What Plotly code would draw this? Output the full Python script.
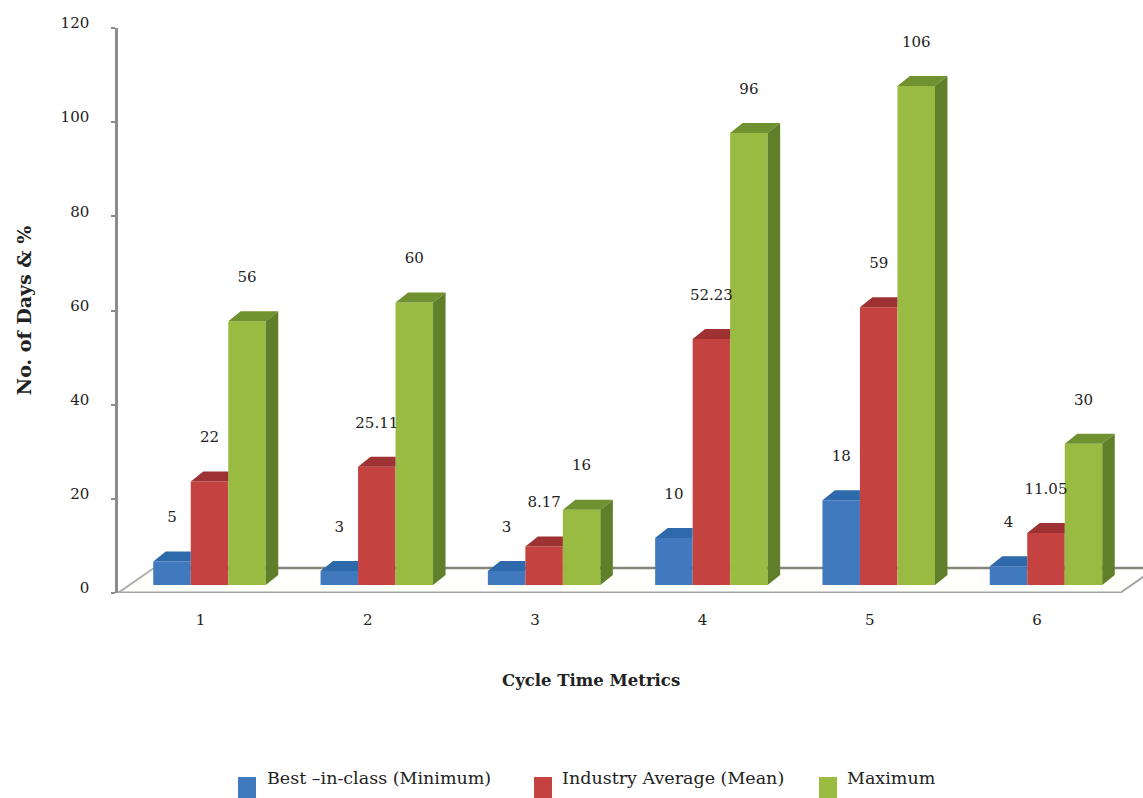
import plotly.graph_objects as go

# Chart data
categories = [1, 2, 3, 4, 5, 6]
best_in_class = [5, 3, 3, 10, 18, 4]
industry_average = [22, 25.11, 8.17, 52.23, 59, 11.05]
maximum = [56, 60, 16, 96, 106, 30]
y_ticks = [0, 20, 40, 60, 80, 100, 120]
series_names = ["Best \u2013in-class (Minimum)", "Industry Average (Mean)", "Maximum"]

# Colours: front, top and side face of each series
front_colors = ["#4179BE", "#C4423F", "#9ABB42"]
top_colors = ["#2D69AB", "#9E3233", "#6F9130"]
side_color = "#5F7F2B"

FONT = "DejaVu Serif"
TEXT = "#222222"

# Layout of the plot area in pixels
W, H = 1143, 798
LEFT, RIGHT, TOP, BOTTOM = 118, 1143, 28, 593
X_UNIT = 167.3
Y_UNIT = (BOTTOM - TOP) / 120
X_ORIGIN = 209.5  # pixel centre of the first group


def dx(px):
    return px / X_UNIT


def dy(px):
    return px / Y_UNIT


BAR_W = dx(37.5)
DEPTH_X = dx(12.5)
DEPTH_Y = dy(10)
BASE = dy(8)  # bars stand on the floor, slightly behind its front edge
LABEL_GAP = dy(43)

fig = go.Figure()
series = [best_in_class, industry_average, maximum]

# Front faces
for s, values in enumerate(series):
    fig.add_trace(go.Bar(
        x=[c + (s - 1) * BAR_W for c in categories],
        y=values, base=BASE, width=BAR_W,
        marker=dict(color=front_colors[s], line=dict(width=0)),
        name=series_names[s], showlegend=False,
    ))


def face(xs, ys, color):
    fig.add_trace(go.Scatter(
        x=xs, y=ys, mode="lines", fill="toself", fillcolor=color,
        line=dict(width=0, color=color), hoverinfo="skip", showlegend=False,
    ))


# Top and side faces; each shorter bar's depth is hidden behind its taller neighbour
for s, values in enumerate(series):
    for c, v in zip(categories, values):
        x0 = c + (s - 1) * BAR_W - BAR_W / 2
        x1 = x0 + BAR_W
        h = BASE + v
        if s < 2:
            face([x0, x1, x1, x0 + DEPTH_X, x0], [h, h, h + DEPTH_Y, h + DEPTH_Y, h], top_colors[s])
        else:
            face([x0, x1, x1 + DEPTH_X, x0 + DEPTH_X, x0], [h, h, h + DEPTH_Y, h + DEPTH_Y, h], top_colors[s])
            face([x1, x1 + DEPTH_X, x1 + DEPTH_X, x1, x1],
                 [BASE, BASE + DEPTH_Y, h + DEPTH_Y, h, BASE], side_color)

# Value labels
for s, values in enumerate(series):
    fig.add_trace(go.Scatter(
        x=[c + (s - 1) * BAR_W for c in categories],
        y=[BASE + v + LABEL_GAP for v in values],
        mode="text", text=[str(v) for v in values],
        textposition="middle center",
        textfont=dict(family=FONT, size=15, color=TEXT),
        hoverinfo="skip", showlegend=False,
    ))

x_left = 1 + (LEFT - X_ORIGIN) / X_UNIT
x_right = 1 + (RIGHT - X_ORIGIN) / X_UNIT
FLOOR_DX, FLOOR_DY = dx(36), dy(25)
x_front_right = 1 + (1120 - X_ORIGIN) / X_UNIT

# Floor of the chart, drawn beneath the bars
shapes = [
    dict(type="path", layer="below", xref="x", yref="y",
         path=f"M{x_left},0 L{x_front_right},0 L{x_front_right + FLOOR_DX},{FLOOR_DY} L{x_left + FLOOR_DX},{FLOOR_DY} Z",
         fillcolor="#FFFFFC", line=dict(width=0)),
    dict(type="line", layer="below", xref="x", yref="y", x0=x_left, y0=0, x1=x_front_right, y1=0,
         line=dict(color="#A6A6A6", width=3)),
    dict(type="line", layer="below", xref="x", yref="y", x0=x_left + FLOOR_DX, y0=FLOOR_DY,
         x1=x_right, y1=FLOOR_DY, line=dict(color="#85857A", width=2.5)),
    dict(type="line", layer="below", xref="x", yref="y", x0=x_left, y0=0, x1=x_left + FLOOR_DX, y1=FLOOR_DY,
         line=dict(color="#B0B0B0", width=2)),
    dict(type="line", layer="below", xref="x", yref="y", x0=x_front_right, y0=0,
         x1=x_front_right + FLOOR_DX, y1=FLOOR_DY, line=dict(color="#A6A6A6", width=2)),
]

annotations = [dict(
    text="<b>Cycle Time Metrics</b>", xref="paper", yref="paper",
    x=(591 - LEFT) / (RIGHT - LEFT), y=(BOTTOM - 680) / (BOTTOM - TOP),
    showarrow=False, xanchor="center", yanchor="middle",
    font=dict(family=FONT, size=16.5, color=TEXT),
)]

# Legend row along the bottom edge
swatch_left = [238, 534, 819]
text_left = [265, 560, 845]
for s in range(3):
    shapes.append(dict(
        type="rect", xref="paper", yref="paper", layer="above",
        x0=(swatch_left[s] - LEFT) / (RIGHT - LEFT), x1=(swatch_left[s] + 18 - LEFT) / (RIGHT - LEFT),
        y0=(BOTTOM - 798) / (BOTTOM - TOP), y1=(BOTTOM - 777) / (BOTTOM - TOP),
        fillcolor=front_colors[s], line=dict(width=0),
    ))
    annotations.append(dict(
        text=series_names[s], xref="paper", yref="paper",
        x=(text_left[s] - LEFT) / (RIGHT - LEFT), y=(BOTTOM - 778) / (BOTTOM - TOP),
        showarrow=False, xanchor="left", yanchor="middle",
        font=dict(family=FONT, size=17.5, color=TEXT),
    ))

fig.update_layout(
    width=W, height=H, autosize=False,
    margin=dict(l=LEFT, r=W - RIGHT, t=TOP, b=H - BOTTOM, pad=0),
    paper_bgcolor="white", plot_bgcolor="white",
    barmode="overlay", showlegend=False,
    shapes=shapes, annotations=annotations,
    font=dict(family=FONT, size=15, color=TEXT),
    xaxis=dict(
        range=[x_left, x_right], tickmode="array", tickvals=categories,
        ticktext=[str(c) for c in categories], ticks="", showgrid=False,
        showline=False, zeroline=False, ticklabelshift=-9, ticklabelstandoff=16,
        tickfont=dict(family=FONT, size=15, color=TEXT),
    ),
    yaxis=dict(
        range=[0, 120], tickmode="array", tickvals=y_ticks,
        ticktext=[str(t) for t in y_ticks], ticks="outside", ticklen=4, tickwidth=1.5,
        tickcolor="#8C8C8C", showgrid=False, showline=True, linecolor="#8C8C8C",
        linewidth=2.5, zeroline=False, ticklabelshift=-5, ticklabelstandoff=19,
        tickfont=dict(family=FONT, size=15, color=TEXT),
        title=dict(text="<b>No. of Days &amp; %</b>", standoff=24,
                   font=dict(family=FONT, size=19, color=TEXT)),
    ),
)

fig.write_html("out.html")
